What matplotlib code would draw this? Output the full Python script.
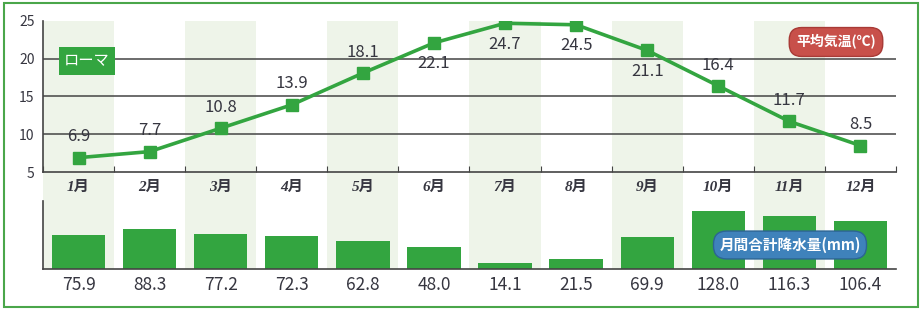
import matplotlib.pyplot as plt
import matplotlib.transforms as mtrans
from matplotlib.patches import Rectangle
import numpy as np

plt.rcParams['font.family'] = ['Noto Sans CJK JP', 'DejaVu Sans']

months = ["1月", "2月", "3月", "4月", "5月", "6月", "7月", "8月", "9月", "10月", "11月", "12月"]
temps = [6.9, 7.7, 10.8, 13.9, 18.1, 22.1, 24.7, 24.5, 21.1, 16.4, 11.7, 8.5]
rain = [75.9, 88.3, 77.2, 72.3, 62.8, 48.0, 14.1, 21.5, 69.9, 128.0, 116.3, 106.4]
# months whose label sits under the point
below = [6, 7, 8, 9]

GREEN = "#33a540"
SHADE = "#eef4e9"
TXT = "#363640"
W, H = 923, 312

fig = plt.figure(figsize=(W / 100, H / 100), dpi=100)


def box(x0, y0, x1, y1):
    # pixel box (from top-left) -> figure fraction rect
    return [x0 / W, 1 - y1 / H, (x1 - x0) / W, (y1 - y0) / H]


x = np.arange(len(months)) + 0.5

# background with the alternating column shading
bg = fig.add_axes(box(43, 21, 896, 269))
bg.set_xlim(0, 12)
bg.set_ylim(0, 1)
for i in range(0, 12, 2):
    bg.axvspan(i, i + 1, color=SHADE, lw=0)
bg.axis("off")

# temperature
ax = fig.add_axes(box(43, 21, 896, 172))
ax.patch.set_alpha(0)
ax.set_xlim(0, 12)
ax.set_ylim(5, 25)
ax.set_yticks([5, 10, 15, 20, 25])
ax.tick_params(axis="y", length=0, labelsize=10, colors=TXT, pad=6)
ax.set_xticks(np.arange(0, 13))
ax.set_xticklabels([])
ax.tick_params(axis="x", direction="in", length=4, color="#444444")
for s in ["top", "right"]:
    ax.spines[s].set_visible(False)
for s in ["left", "bottom"]:
    ax.spines[s].set_color("#444444")
    ax.spines[s].set_linewidth(1.2)
for yv in [10, 15, 20]:
    ax.axhline(yv, color="#444444", lw=1.1, zorder=1)

ax.plot(x, temps, color=GREEN, lw=2.6, marker="s", markersize=9, zorder=3)
for i, t in enumerate(temps):
    off = -15 if (i + 1) in below else 15
    ax.annotate(f"{t:.1f}", (x[i], t), xytext=(0, off), textcoords="offset points",
                ha="center", va="center", fontsize=12, color=TXT)

tr = mtrans.blended_transform_factory(ax.transData, fig.transFigure)
for i, m in enumerate(months):
    ax.text(x[i], 1 - 187 / H, m, transform=tr, ha="center", va="center",
            fontsize=11, color=TXT, style="italic", weight="bold",
            family=["Liberation Serif", "Noto Sans CJK JP"])

# rainfall
bx = fig.add_axes(box(43, 201, 896, 269))
bx.patch.set_alpha(0)
bx.set_xlim(0, 12)
bx.set_ylim(0, 150)
bx.bar(x, rain, width=0.75, color=GREEN, zorder=2)
bx.set_xticks([])
bx.set_yticks([])
for s in ["top", "right"]:
    bx.spines[s].set_visible(False)
for s in ["left", "bottom"]:
    bx.spines[s].set_color("#444444")
    bx.spines[s].set_linewidth(1.2)
tr2 = mtrans.blended_transform_factory(bx.transData, fig.transFigure)
for i, r in enumerate(rain):
    bx.text(x[i], 1 - 285 / H, f"{r:.1f}", transform=tr2, ha="center", va="center",
            fontsize=12.5, color=TXT)

# labels
fig.text(87 / W, 1 - 61 / H, "ローマ", ha="center", va="center", color="white",
         fontsize=11, bbox=dict(boxstyle="square,pad=0.35", fc=GREEN, ec="none"))
fig.text(836 / W, 1 - 42 / H, "平均気温(℃)", ha="center", va="center", color="white",
         fontsize=10, weight="bold",
         bbox=dict(boxstyle="round,pad=0.5,rounding_size=0.9", fc="#c8504a", ec="#a83a36", lw=1))
fig.text(790 / W, 1 - 245 / H, "月間合計降水量(mm)", ha="center", va="center", color="white",
         fontsize=10.5, weight="bold",
         bbox=dict(boxstyle="round,pad=0.4,rounding_size=0.9", fc="#3f82bb", ec="#2c6494", lw=1))

# outer frame
fig.patches.append(Rectangle((4 / W, 1 - 307 / H), 914 / W, 304 / H, transform=fig.transFigure,
                             fill=False, ec="#4aa64a", lw=1.5))

fig.savefig("out.png", dpi=100)
